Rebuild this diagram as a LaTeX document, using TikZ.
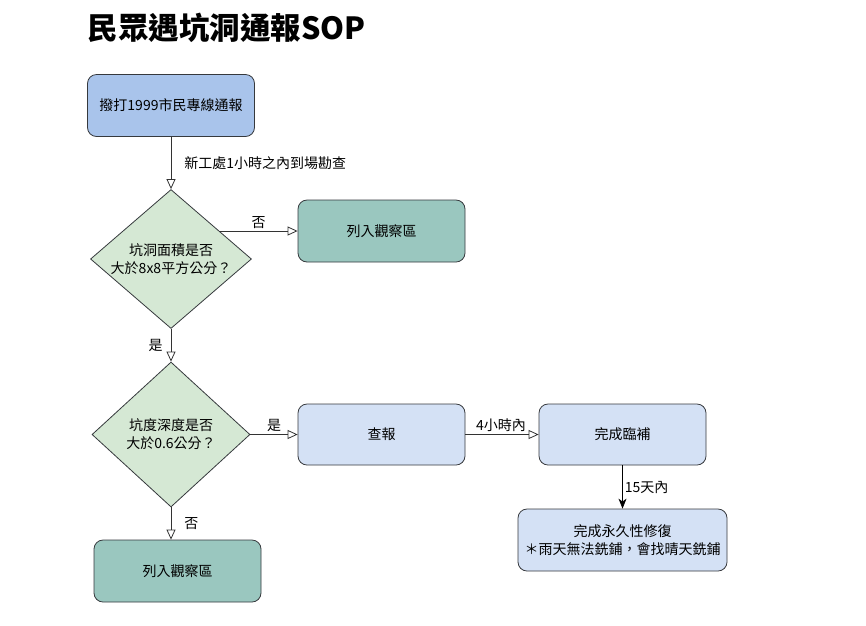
\documentclass[tikz,border=0pt]{standalone}
\usepackage{fontspec}
\setmainfont{Noto Sans CJK TC}
\usepackage{tikz}
\usepackage{xcolor}
\usetikzlibrary{shapes.geometric,arrows.meta}
\definecolor{callblue}{HTML}{A9C4EB}
\definecolor{stepblue}{HTML}{D4E1F5}
\definecolor{askgreen}{HTML}{D5E8D4}
\definecolor{watchteal}{HTML}{9AC7BF}
\definecolor{edgegray}{HTML}{36393D}
\tikzset{box/.style={draw=edgegray,line width=0.8pt,rounded corners=9pt,
		minimum width=167pt,minimum height=62pt,align=center,
		font=\fontsize{14}{18}\selectfont},
	ask/.style={draw=edgegray,line width=0.8pt,diamond,fill=askgreen,inner sep=0pt},
	lab/.style={font=\fontsize{14}{18}\selectfont,inner sep=2pt},
	flow/.style={draw=black!80,line width=0.8pt,-{Triangle[open,length=10pt,width=9pt]}},
	flowfill/.style={draw=black,line width=0.8pt,-{Stealth[length=10pt,width=8pt,inset=3pt]}}}
\begin{document}
\begin{tikzpicture}[x=1pt,y=-1pt]
			\useasboundingbox (0,0) rectangle (866,625);
			\node[anchor=west,font=\fontsize{30.5}{36}\selectfont\bfseries] (title) at (84,28) {民眾遇坑洞通報SOP};
			
			\node[box,fill=callblue] (call) at (171,105.5) {撥打1999市民專線通報};
			\node[ask,minimum width=161pt,minimum height=139pt,
				label={[lab,align=center]center:坑洞面積是否\\大於8x8平方公分？}] (q1) at (171,259) {};
			\node[box,fill=watchteal] (obs1) at (381.5,231) {列入觀察區};
			\node[ask,minimum width=158pt,minimum height=145pt,
				label={[lab,align=center]center:坑度深度是否\\大於0.6公分？}] (q2) at (171,434.5) {};
			\node[box,fill=stepblue,minimum height=61pt] (check) at (381.5,434.5) {查報};
			\node[box,fill=stepblue,minimum height=61pt] (temp) at (622.5,434.5) {完成臨補};
			\node[box,fill=stepblue,minimum width=209pt] (perm) at (622.5,540) {完成永久性修復\\＊雨天無法銑鋪，會找晴天銑鋪};
			\node[box,fill=watchteal] (obs2) at (177.5,571) {列入觀察區};
		
			\path (call) edge[flow] node[lab,right,xshift=11pt] {新工處1小時之內到場勘查} (q1);
			\path (q1.30) edge[flow] node[lab,above] {否} (q1.30 -| obs1.west);
			\path (q1.south) edge[flow] node[lab,left,xshift=-6pt] {是} (q2.north);
			\path (q2.east) edge[flow] node[lab,above] {是} (check.west);
			\path (check) edge[flow] node[lab,above,xshift=-1pt] {4小時內} (temp);
			\path (temp) edge[flowfill] node[lab,right] {15天內} (perm);
			\path (q2.south) edge[flow] node[lab,right,xshift=11pt] {否} (q2.south |- obs2.north);
		\end{tikzpicture}
\end{document}
